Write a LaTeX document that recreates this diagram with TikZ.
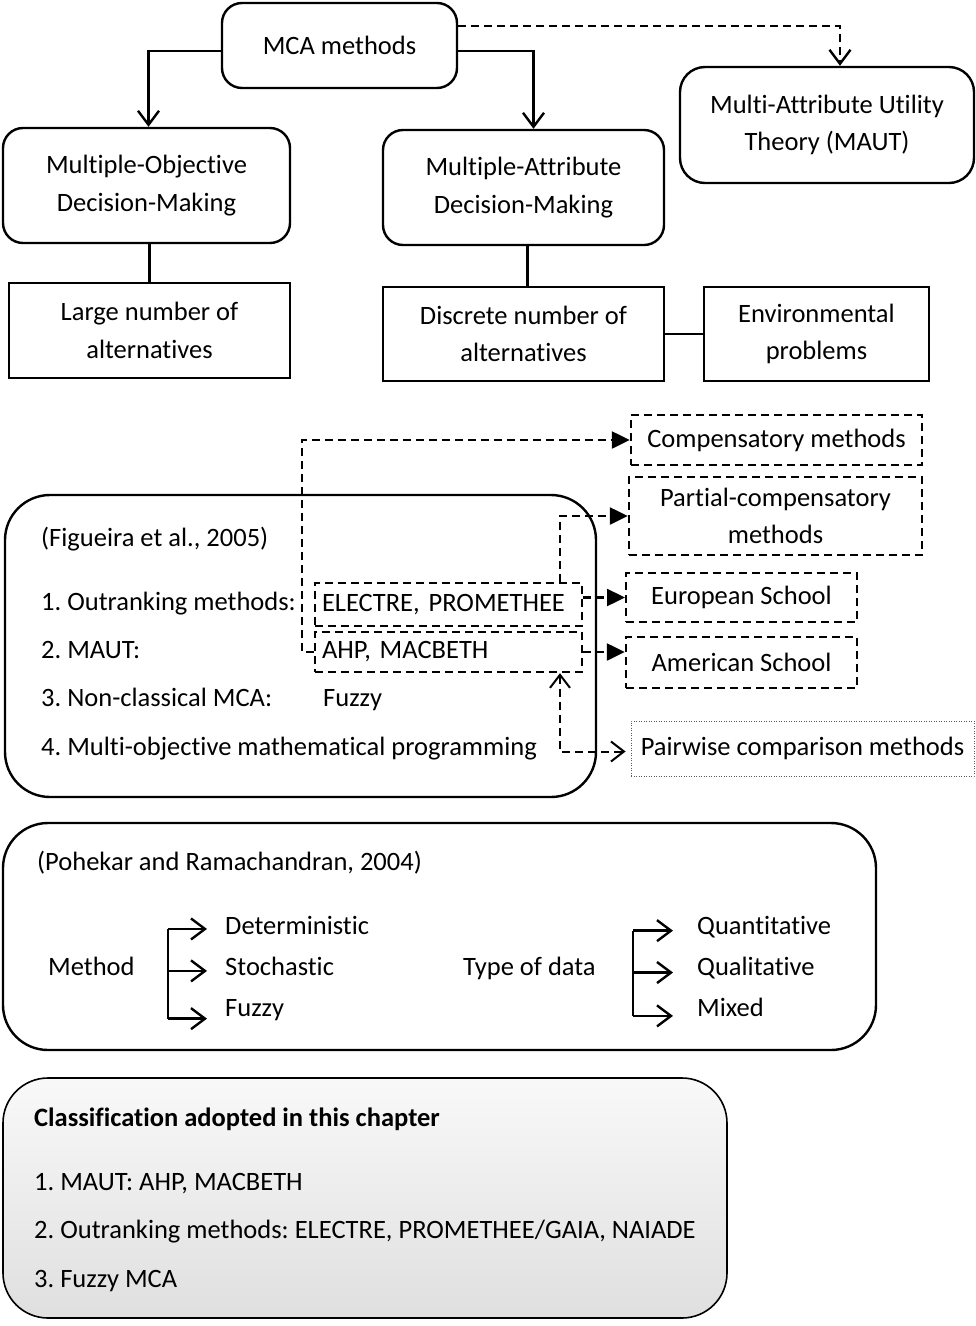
\documentclass[tikz,border=0pt]{standalone}
\usepackage{fontspec}
\setmainfont{Carlito}[Ligatures=NoCommon]
\usetikzlibrary{arrows.meta,calc}
\frenchspacing
\begin{document}
\begin{tikzpicture}[x=1pt,y=-1pt,
  font=\fontsize{26.5}{37.5}\selectfont,
  line width=2.4pt,
  rbox/.style={draw,rounded corners=20pt,align=center,inner sep=0pt},
  sbox/.style={draw,align=center,inner sep=0pt},
  dbox/.style={draw,dash pattern=on 8pt off 5pt,inner sep=0pt,align=center},
  big/.style={draw,rounded corners=45pt,inner sep=0pt},
  lbl/.style={anchor=base west,inner sep=0pt},
  dashln/.style={dash pattern=on 8pt off 5pt},
  barb/.style={-{Straight Barb[length=14pt,width=21pt,line width=2.4pt]}},
  twobarb/.style={{Straight Barb[length=13pt,width=20pt,line width=2pt]}-{Straight Barb[length=13pt,width=20pt,line width=2pt]}},
  tri/.style={-{Triangle[length=18pt,width=17pt]}},
]
\useasboundingbox (0,0) rectangle (976,1326);

% ---------- top hierarchy ----------
\node[rbox,minimum width=235pt,minimum height=85pt] (mca) at (339.5,45.5) {MCA methods};
\node[rbox,rounded corners=25pt,minimum width=294pt,minimum height=116pt] (maut) at (827,125) {Multi-Attribute Utility\\Theory (MAUT)};
\node[rbox,minimum width=287pt,minimum height=115pt] (mod) at (146.5,185.5) {Multiple-Objective\\Decision-Making};
\node[rbox,minimum width=281pt,minimum height=115pt] (mad) at (523.5,187.5) {Multiple-Attribute\\Decision-Making};
\node[sbox,minimum width=281pt,minimum height=95pt] (large) at (149.5,330.5) {Large number of\\alternatives};
\node[sbox,minimum width=281pt,minimum height=94pt] (disc) at (523.5,334) {Discrete number of\\alternatives};
\node[sbox,minimum width=225pt,minimum height=94pt] (env) at (816.5,334) {Environmental\\problems};

\draw[barb] ([yshift=-5.5pt]mca.west) -| ([xshift=2pt]mod.north);
\draw[barb] ([yshift=-5.5pt]mca.east) -| ([xshift=10pt]mad.north);
\draw[barb,line width=1.8pt,dashln] ([yshift=19.5pt]mca.east) -| ([xshift=13pt]maut.north);
\draw (mod.south -| large.north) -- (large.north);
\draw ([xshift=4pt]mad.south) -- ([xshift=4pt]mad.south |- disc.north);
\draw (disc.east) -- (env.west);

% ---------- Figueira et al. classification ----------
\node[big,minimum width=591pt,minimum height=302pt] (fig) at (300.5,646) {};
\node[lbl] (figref) at (40,546) {(Figueira et al., 2005)};
\node[lbl] (f1) at (40,610) {1. Outranking methods:};
\node[lbl] (f2) at (40,658) {2. MAUT:};
\node[lbl] (f3) at (40,706) {3. Non-classical MCA:};
\node[lbl] (f3b) at (322,706) {Fuzzy};
\node[lbl] (f4) at (40,755) {4. Multi-objective mathematical programming};

\node[dbox,minimum width=267pt,minimum height=43pt,text width=253pt,align=left] (electre) at (448.5,604.5) {ELECTRE, PROMETHEE};
\node[dbox,minimum width=267pt,minimum height=40pt,text width=253pt,align=left] (ahp) at (448.5,652) {AHP, MACBETH};

\node[dbox,minimum width=291pt,minimum height=50pt] (comp) at (776.5,440) {Compensatory methods};
\node[dbox,minimum width=293pt,minimum height=78pt] (partial) at (775.5,516) {Partial-compensatory\\methods};
\node[dbox,line width=2pt,minimum width=231pt,minimum height=49pt] (euro) at (741.5,597.5) {European School};
\node[dbox,minimum width=231pt,minimum height=51pt] (amer) at (741.5,662.5) {American School};
\node[draw,gray!70!black,line width=0.8pt,dash pattern=on 1pt off 1.5pt,text=black,inner sep=0pt,minimum width=343pt,minimum height=55pt] (pair) at (802.5,748.5) {Pairwise comparison methods};

\draw[tri,dashln] (ahp.west) -- ++(-12,0) |- (comp.west);
\draw[tri,dashln] ([xshift=111.5pt]electre.north) |- (partial.west);
\draw[tri,dashln] (electre.east |- euro.west) -- (euro.west);
\draw[tri,dashln] (ahp.east) -- (ahp.east -| amer.west);
\draw[twobarb,line width=2pt,dashln]
  ([xshift=111.5pt]ahp.south) |- ([xshift=-5pt,yshift=-3pt]pair.west);

% ---------- Pohekar and Ramachandran ----------
\node[big,minimum width=873pt,minimum height=227pt] (poh) at (439.5,936.5) {};
\node[lbl] (pohref) at (36,870) {(Pohekar and Ramachandran, 2004)};
\node[lbl] (meth) at (47,975) {Method};
\node[lbl] (det) at (224,934) {Deterministic};
\node[lbl] (sto) at (224,975) {Stochastic};
\node[lbl] (fuz) at (224,1016) {Fuzzy};
\node[lbl] (tod) at (462,975) {Type of data};
\node[lbl] (qua) at (696,934) {Quantitative};
\node[lbl] (qul) at (696,975) {Qualitative};
\node[lbl] (mix) at (696,1016) {Mixed};

\coordinate (mb) at (168,971);
\coordinate (tb) at (633,971);
\draw ([yshift=-4pt]mb |- det.west) -- ([yshift=-9pt]mb |- fuz.west);
\draw ([yshift=-4pt]tb |- qua.west) -- ([yshift=-9pt]tb |- mix.west);
\draw[barb,shorten >=17pt] ([yshift=-4pt]mb |- det.west) -- ([yshift=-4pt]det.west);
\draw[barb,shorten >=17pt] ([yshift=-5pt]mb |- sto.west) -- ([yshift=-5pt]sto.west);
\draw[barb,shorten >=17pt] ([yshift=-9pt]mb |- fuz.west) -- ([yshift=-9pt]fuz.west);
\draw[barb,shorten >=23pt] ([yshift=-4pt]tb |- qua.west) -- ([yshift=-4pt]qua.west);
\draw[barb,shorten >=23pt] ([yshift=-5pt]tb |- qul.west) -- ([yshift=-5pt]qul.west);
\draw[barb,shorten >=23pt] ([yshift=-9pt]tb |- mix.west) -- ([yshift=-9pt]mix.west);

% ---------- adopted classification ----------
\node[big,top color=gray!5,bottom color=gray!25,line width=1.6pt,minimum width=724pt,minimum height=240pt] (adopt) at (365,1198) {};
\node[lbl,font=\fontsize{26.5}{30}\selectfont\bfseries] (ahead) at (33,1126) {Classification adopted in this chapter};
\node[lbl] (a1) at (33,1190) {1. MAUT: AHP, MACBETH};
\node[lbl] (a2) at (33,1238) {2. Outranking methods: ELECTRE, PROMETHEE/GAIA, NAIADE};
\node[lbl] (a3) at (33,1287) {3. Fuzzy MCA};
\end{tikzpicture}
\end{document}
